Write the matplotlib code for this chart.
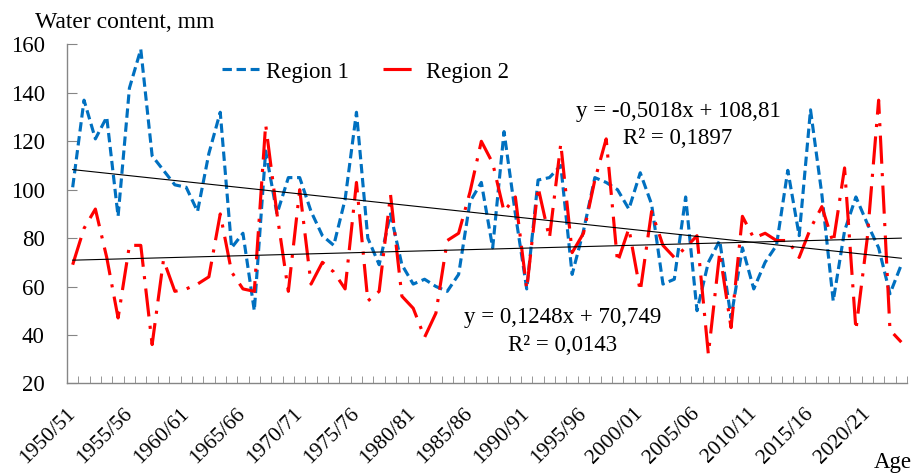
import numpy as np
import matplotlib.pyplot as plt

plt.rcParams['font.family'] = ['Liberation Serif', 'DejaVu Serif']

# seasons 1950/51 ... 2023/24
seasons = [f"{y}/{str(y + 1)[-2:]}" for y in range(1950, 2024)]

region1 = [101, 137, 121, 130, 89, 142, 158, 114, 108, 102,
           101, 91, 115, 132, 76, 82, 50, 116, 90, 105,
           105, 91, 81, 77, 96, 132, 80, 69, 90, 69,
           61, 63, 60, 58, 65, 95, 103, 76, 124, 90,
           59, 104, 105, 110, 65, 83, 105, 103, 100, 92,
           107, 94, 61, 63, 97, 50, 70, 79, 47, 76,
           59, 70, 77, 108, 81, 133, 98, 54, 83, 97,
           86, 76, 57, 69]

region2 = [69, 84, 92, 72, 47, 77, 77, 36, 71, 58,
           59, 61, 64, 90, 66, 59, 58, 127, 90, 58,
           100, 61, 70, 66, 59, 103, 54, 58, 98, 56,
           51, 39, 49, 79, 82, 99, 120, 111, 91, 97,
           59, 101, 80, 119, 74, 82, 104, 121, 70, 84,
           58, 91, 77, 72, 76, 81, 32, 74, 43, 89,
           80, 82, 79, 79, 72, 84, 93, 78, 109, 42,
           80, 137, 42, 37]

# linear trends as printed on the chart
trend1 = (-0.5018, 108.81)
trend2 = (0.1248, 70.749)

x = np.arange(1, len(seasons) + 1)
fs = 16.5
grey = '#868686'

fig = plt.figure(figsize=(9.17, 4.73), dpi=100)
ax = fig.add_axes([67 / 917, 1 - 383.3 / 473, 840 / 917, (383.3 - 44.5) / 473])

ax.plot(x, region1, color='#0070C0', lw=2.25, ls=(0, (3, 1.5)), label='Region 1')
ax.plot(x, region2, color='#FF0000', lw=2.25, ls=(0, (9, 3, 1, 3)), label='Region 2')
ax.plot(x, trend1[0] * x + trend1[1], color='black', lw=0.8)
ax.plot(x, trend2[0] * x + trend2[1], color='black', lw=0.8)

ax.set_xlim(0.5, len(seasons) + 0.5)
ax.set_ylim(20, 160)
ax.set_yticks(range(20, 161, 20))
ax.set_xticks(x[::5])
ax.set_xticklabels(seasons[::5], rotation=45, ha='right', va='center',
                   rotation_mode='anchor')
ax.set_xticks(np.arange(0.5, len(seasons) + 1, 1), minor=True)
ax.tick_params(axis='x', which='major', length=0, pad=20, labelsize=15.5)
ax.tick_params(axis='x', which='minor', direction='in', length=5, color=grey)
ax.tick_params(axis='y', direction='in', length=7, color=grey, pad=16, labelsize=fs)
for s in ['top', 'right']:
    ax.spines[s].set_visible(False)
for s in ['left', 'bottom']:
    ax.spines[s].set_color(grey)
    ax.spines[s].set_linewidth(1)

ax.legend(loc='center left', bbox_to_anchor=(222 / 917, 1 - 72 / 473),
          bbox_transform=fig.transFigure, ncol=2, frameon=False,
          handlelength=1.6, handletextpad=0.3, columnspacing=1.5,
          borderpad=0, borderaxespad=0, fontsize=fs)

fig.text(678 / 917, 1 - 112 / 473, 'y = -0,5018x + 108,81', ha='center', va='center', fontsize=fs)
fig.text(678 / 917, 1 - 139 / 473, 'R² = 0,1897', ha='center', va='center', fontsize=fs)
fig.text(563 / 917, 1 - 317 / 473, 'y = 0,1248x + 70,749', ha='center', va='center', fontsize=fs)
fig.text(563 / 917, 1 - 345 / 473, 'R² = 0,0143', ha='center', va='center', fontsize=fs)

fig.text(35 / 917, 1 - 22 / 473, 'Water content, mm', ha='left', va='center', fontsize=17)
fig.text(912 / 917, 1 - 462 / 473, 'Age', ha='right', va='center', fontsize=fs)

fig.savefig('out.png', dpi=100)
